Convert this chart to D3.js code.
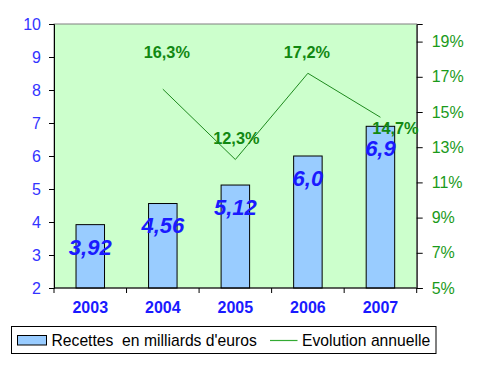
<!DOCTYPE html>
<html><head><meta charset="utf-8">
<script src="https://cdn.jsdelivr.net/npm/d3@7"></script>
<style>body{margin:0;background:#fff;} svg{display:block;} svg text{font-family:"Liberation Sans",Arial,sans-serif;}</style>
</head><body><svg id="c" width="479" height="367"></svg>
<script>
const years = ["2003","2004","2005","2006","2007"];
const recettes = [3.92, 4.56, 5.12, 6.0, 6.9];
const recettesLabels = ["3,92","4,56","5,12","6,0","6,9"];
const evoYears = ["2004","2005","2006","2007"];
const evolution = [16.3, 12.3, 17.2, 14.7];
const evoLabels = ["16,3%","12,3%","17,2%","14,7%"];
const leftTicks = [2,3,4,5,6,7,8,9,10];
const rightTicks = [5,7,9,11,13,15,17,19];
const legendLabels = ["Recettes  en milliards d'euros", "Evolution annuelle"];

const FONT = "'Liberation Sans', Arial, sans-serif";
const svg = d3.select("#c");
const L = 54, R = 416.7, T = 24, B = 288;
const x = d3.scaleBand().domain(years).range([L, R]);
const y = d3.scaleLinear().domain([2, 10]).range([B, T]);
const y2 = d3.scaleLinear().domain([5, 20]).range([B, T]);

// plot area
svg.append("rect").attr("x", L).attr("y", T).attr("width", R - L).attr("height", B - T)
  .attr("fill", "#ccffcc").attr("stroke", "#808080").attr("stroke-width", 1);

// bars
const bw = 28.5;
svg.selectAll("rect.bar").data(recettes).enter().append("rect").attr("class", "bar")
  .attr("x", (d, i) => x(years[i]) + x.bandwidth() / 2 - bw / 2)
  .attr("y", d => y(d)).attr("width", bw).attr("height", d => B - y(d))
  .attr("fill", "#99ccff").attr("stroke", "#000").attr("stroke-width", 1);

// line
const line = d3.line().x((d, i) => x(evoYears[i]) + x.bandwidth() / 2).y(d => y2(d));
svg.append("path").datum(evolution).attr("d", line).attr("fill", "none")
  .attr("stroke", "#1e8a1e").attr("stroke-width", 1);

// left axis
const ax = svg.append("g").attr("transform", `translate(${L},0)`)
  .call(d3.axisLeft(y).tickValues(leftTicks).tickSize(5).tickPadding(8).tickFormat(d3.format("d")));
ax.attr("font-family", FONT);
ax.select(".domain").attr("stroke", "#000");
ax.selectAll("text").attr("fill", "#3333ff").attr("font-size", 16);

// right axis
const ar = svg.append("g").attr("transform", `translate(${R},0)`)
  .call(d3.axisRight(y2).tickValues(rightTicks).tickSize(6).tickPadding(9).tickFormat(d => d + "%"));
ar.attr("font-family", FONT);
ar.select(".domain").attr("stroke", "#000");
ar.selectAll("text").attr("fill", "#1a9a1a").attr("font-size", 16);

// bottom axis
const bx = svg.append("g").attr("transform", `translate(0,${B})`);
bx.append("line").attr("x1", L).attr("x2", R).attr("stroke", "#000");
bx.selectAll("line.tk").data(d3.range(years.length + 1)).enter().append("line")
  .attr("x1", i => L + i * x.step()).attr("x2", i => L + i * x.step())
  .attr("y1", 0).attr("y2", 5).attr("stroke", "#000");
bx.selectAll("text").data(years).enter().append("text")
  .attr("x", d => x(d) + x.bandwidth() / 2).attr("y", 25).attr("text-anchor", "middle")
  .attr("font-size", 16).attr("font-weight", "bold").attr("fill", "#1a1aff").text(d => d);

// bar labels
svg.selectAll("text.bl").data(recettes).enter().append("text").attr("class", "bl")
  .attr("x", (d, i) => x(years[i]) + x.bandwidth() / 2).attr("y", d => y(d) + 22)
  .attr("dy", "0.36em").attr("text-anchor", "middle")
  .attr("font-size", 22).attr("font-weight", "bold").attr("font-style", "italic")
  .attr("fill", "#1a1aff").text((d, i) => recettesLabels[i]);

// line labels
const offs = [[4, -37], [1, -21], [-1, -21.6], [15, 11]];
svg.selectAll("text.ll").data(evolution).enter().append("text").attr("class", "ll")
  .attr("x", (d, i) => x(evoYears[i]) + x.bandwidth() / 2 + offs[i][0])
  .attr("y", (d, i) => y2(d) + offs[i][1]).attr("dy", "0.36em").attr("text-anchor", "middle")
  .attr("font-size", 16.3).attr("font-weight", "bold").attr("fill", "#118811")
  .text((d, i) => evoLabels[i]);

// legend
const lg = svg.append("g");
lg.append("rect").attr("x", 11.5).attr("y", 326.5).attr("width", 424.5).attr("height", 27)
  .attr("fill", "#fff").attr("stroke", "#000");
lg.append("rect").attr("x", 17.5).attr("y", 335.5).attr("width", 29).attr("height", 9.5)
  .attr("fill", "#99ccff").attr("stroke", "#000");
lg.append("text").attr("x", 51.5).attr("y", 346).attr("font-size", 15.7).attr("fill", "#000")
  .attr("xml:space", "preserve").style("white-space", "pre").text(legendLabels[0]);
lg.append("line").attr("x1", 270).attr("x2", 297.5).attr("y1", 340.5).attr("y2", 340.5)
  .attr("stroke", "#33aa33").attr("stroke-width", 1.2);
lg.append("text").attr("x", 302).attr("y", 346).attr("font-size", 15.7).attr("fill", "#000")
  .text(legendLabels[1]);
</script></body></html>
